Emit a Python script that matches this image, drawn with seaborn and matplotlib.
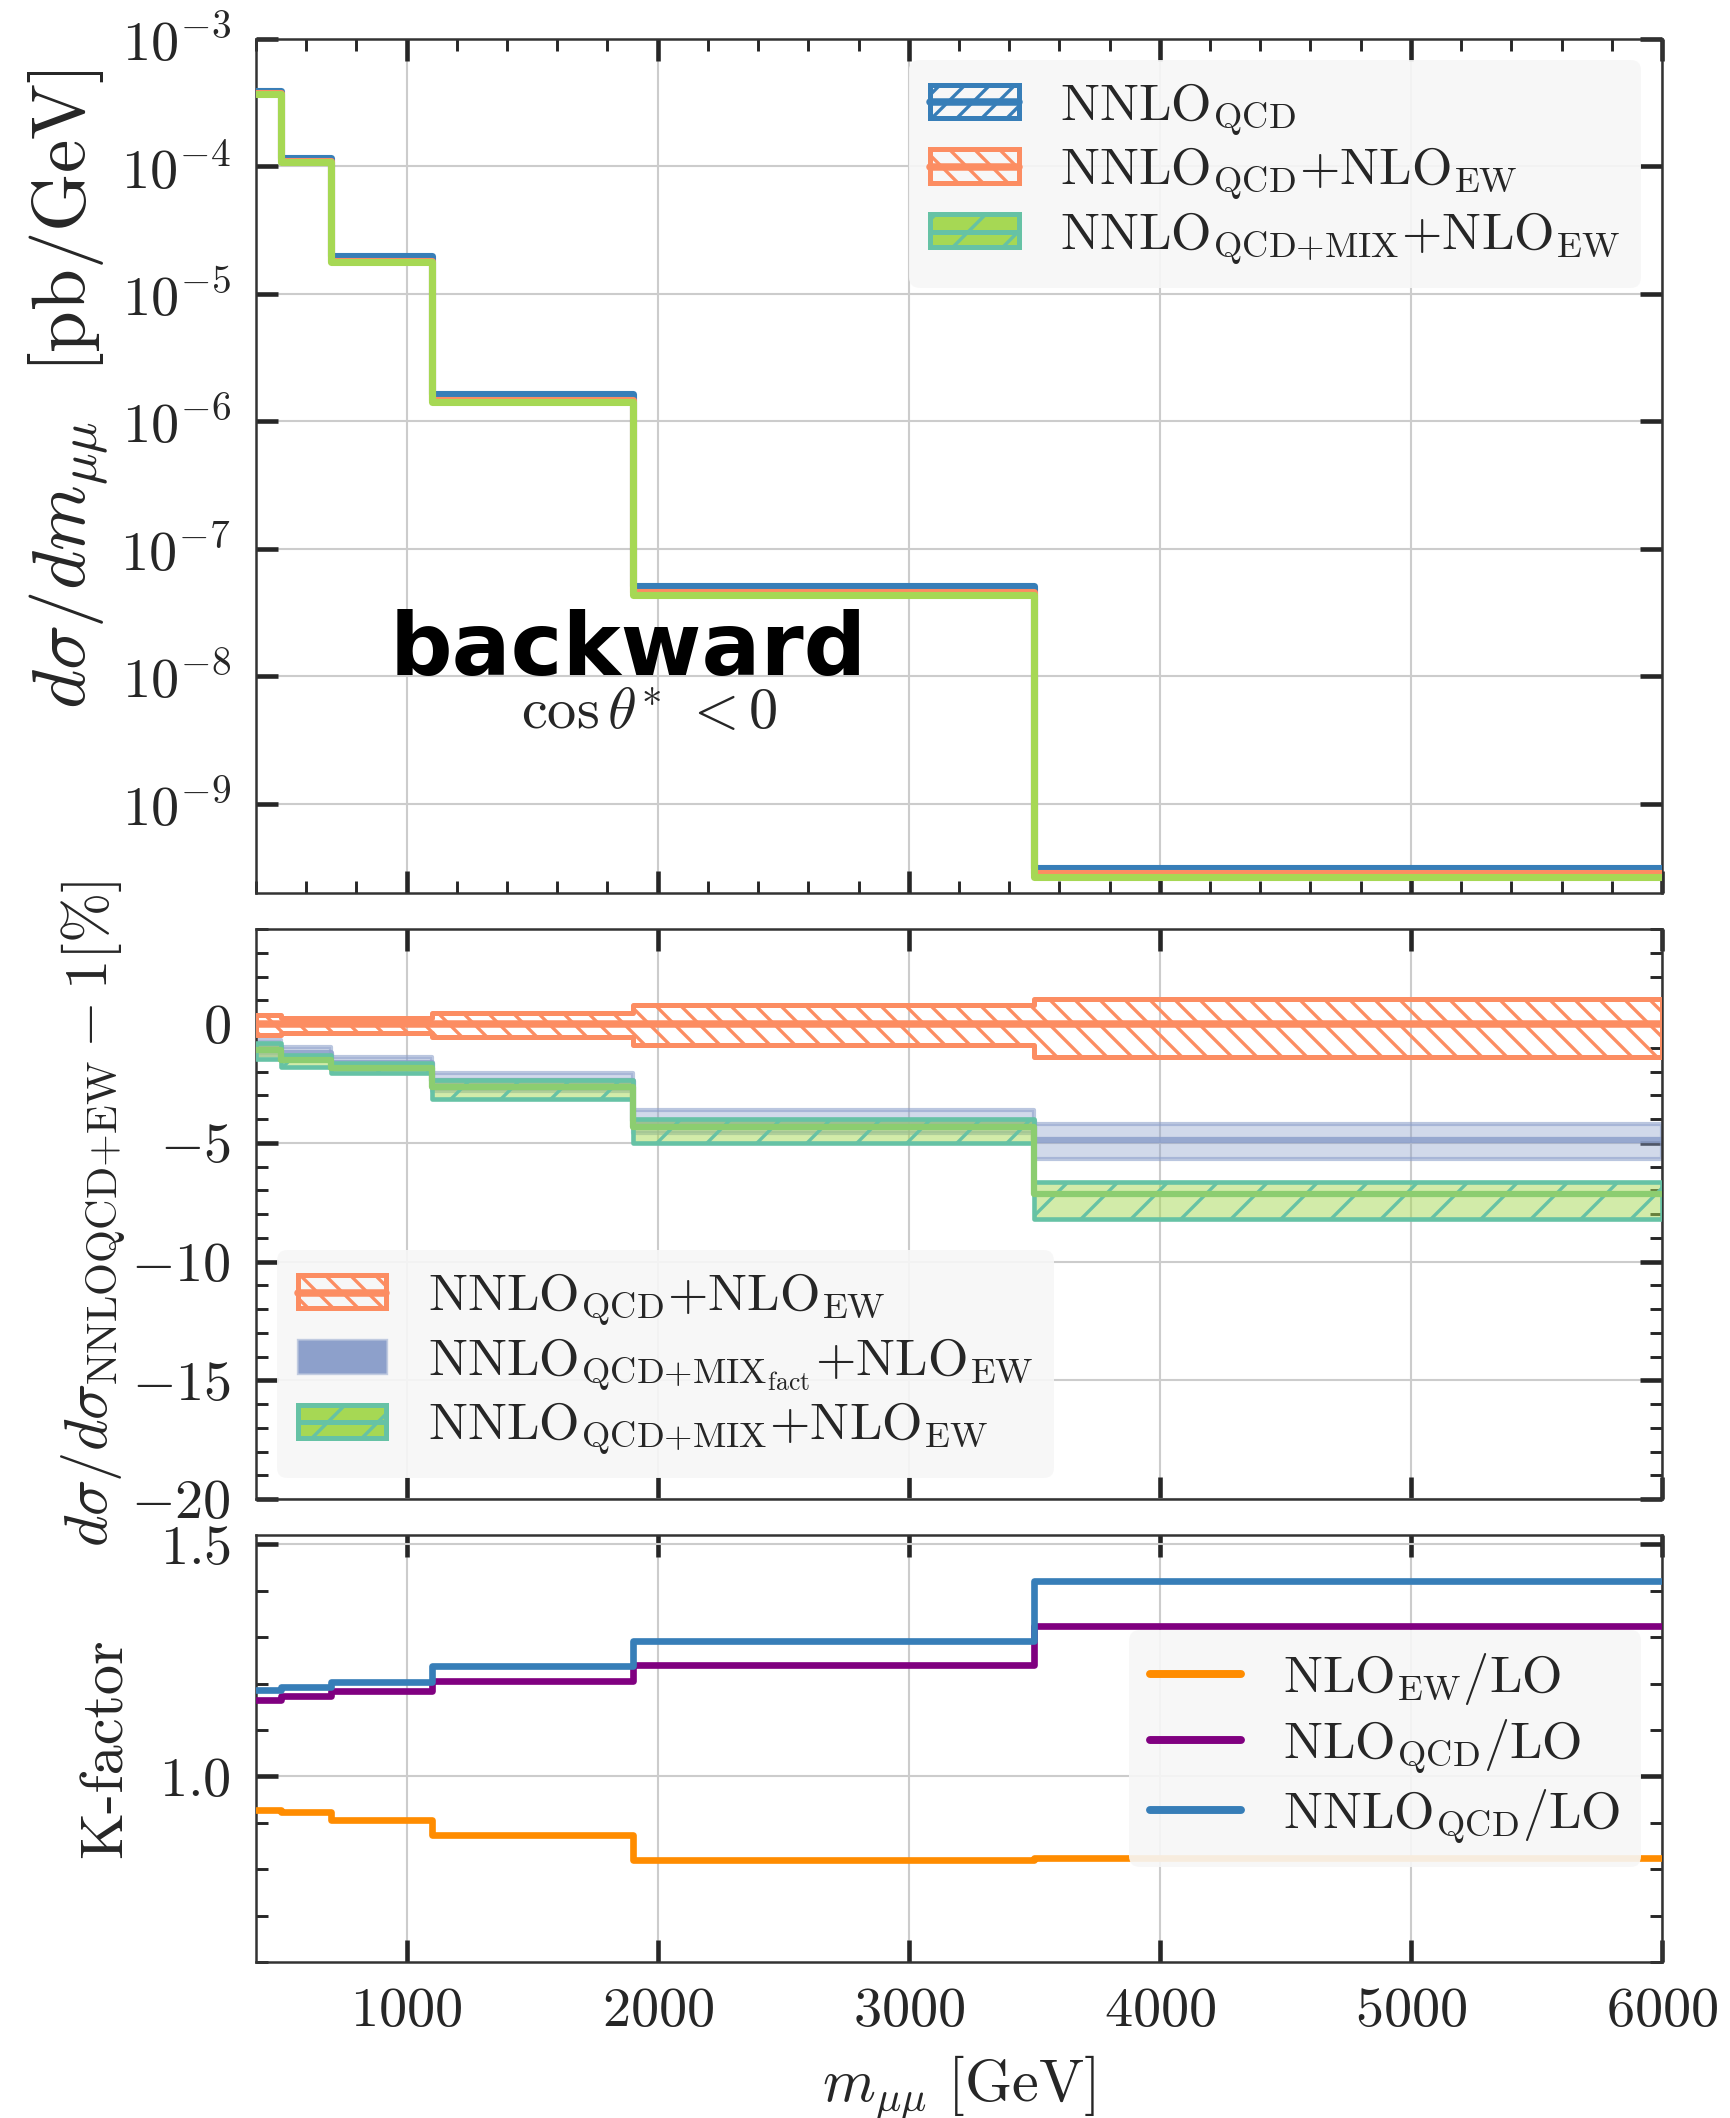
import numpy as np
import matplotlib
matplotlib.use("Agg")
import matplotlib.pyplot as plt
import seaborn as sns
from matplotlib.patches import Patch
from matplotlib.lines import Line2D
from matplotlib.legend_handler import HandlerTuple
from matplotlib.ticker import MultipleLocator, LogLocator, NullLocator
from matplotlib.colors import to_rgba

# ---------------- data ----------------
edges = [400, 500, 700, 1100, 1900, 3500, 6000]

# differential cross sections [pb/GeV]
xs_nnlo_qcd = [3.94e-4, 1.17e-4, 1.98e-5, 1.63e-6, 5.13e-8, 3.12e-10]
xs_nnlo_qcd_ew = [3.76e-4, 1.11e-4, 1.82e-5, 1.47e-6, 4.60e-8, 2.85e-10]
xs_nnlo_mix_ew = [3.70e-4, 1.09e-4, 1.78e-5, 1.42e-6, 4.38e-8, 2.65e-10]

# relative deviations from NNLO_QCD+NLO_EW [%]
ew_c = [0.0, 0.0, 0.0, 0.0, 0.0, 0.0]
ew_up = [0.38, 0.24, 0.24, 0.45, 0.80, 1.04]
ew_dn = [-0.46, -0.39, -0.39, -0.56, -0.89, -1.41]
fact_c = [-0.95, -1.20, -1.65, -2.40, -4.10, -4.90]
fact_up = [-0.68, -0.96, -1.41, -2.08, -3.63, -4.20]
fact_dn = [-1.30, -1.50, -1.95, -2.80, -4.60, -5.68]
mix_c = [-1.10, -1.50, -1.85, -2.65, -4.35, -7.15]
mix_up = [-0.82, -1.31, -1.66, -2.37, -3.99, -6.66]
mix_dn = [-1.49, -1.80, -2.08, -3.14, -5.01, -8.21]

# K-factors
k_nlo_ew = [0.928, 0.923, 0.906, 0.873, 0.819, 0.823]
k_nlo_qcd = [1.164, 1.173, 1.184, 1.205, 1.240, 1.325]
k_nnlo_qcd = [1.186, 1.193, 1.204, 1.237, 1.291, 1.421]

# ---------------- style ----------------
sns.set_theme(style="whitegrid")
plt.rcParams.update({
    "font.family": "serif",
    "font.serif": ["cmr10"],
    "mathtext.fontset": "cm",
    "axes.formatter.use_mathtext": True,
    "axes.unicode_minus": True,
    "hatch.linewidth": 0.8,
    "axes.edgecolor": "#333333",
    "axes.linewidth": 0.6,
})

C_QCD = "#377eb8"
C_EW = "#fc8d62"
C_MIXF = "#8da0cb"
C_MIX = "#a6d854"
C_MIX_EDGE = "#66c2a5"
C_K_EW = "#ff8c00"
C_K_NLO = "#800080"
C_K_NNLO = "#377eb8"

FS_TICK = 13.5
FS_LAB = 14.5
FS_LEG = 12.5

W, H = 1731, 2118
fig = plt.figure(figsize=(W / 300, H / 300), dpi=300)
left, right = 256 / W, 1662 / W
def rect(top_px, bot_px):
    return [left, 1 - bot_px / H, right - left, (bot_px - top_px) / H]

ax1 = fig.add_axes(rect(39, 893))
ax2 = fig.add_axes(rect(929, 1499))
ax3 = fig.add_axes(rect(1535, 1962))


def ext(v):
    v = np.asarray(v, dtype=float)
    return np.append(v, v[-1])


def steps(ax, vals, color, lw, **kw):
    sns.lineplot(x=edges, y=ext(vals), drawstyle="steps-post", estimator=None,
                 sort=False, color=color, linewidth=lw, ax=ax, legend=False, **kw)


def band(ax, lo, hi, **kw):
    ax.fill_between(edges, ext(lo), ext(hi), step="post", **kw)


# ---------------- top panel ----------------
xs_ew = np.array(xs_nnlo_qcd_ew)
xs_mix = np.array(xs_nnlo_mix_ew)
steps(ax1, xs_nnlo_qcd, C_QCD, 1.7, zorder=3)
band(ax1, xs_ew * (1 + np.array(ew_dn) / 100), xs_ew * (1 + np.array(ew_up) / 100),
     facecolor="none", edgecolor=C_EW, hatch="\\\\\\\\", lw=0.8, zorder=4)
steps(ax1, xs_nnlo_qcd_ew, C_EW, 1.7, zorder=4)
mix_rel_dn = (np.array(mix_dn) - np.array(mix_c)) / 100
mix_rel_up = (np.array(mix_up) - np.array(mix_c)) / 100
band(ax1, xs_mix * (1 + mix_rel_dn), xs_mix * (1 + mix_rel_up),
     facecolor=to_rgba(C_MIX, 0.6), edgecolor=C_MIX_EDGE, hatch="//", lw=0.8, zorder=5)
steps(ax1, xs_nnlo_mix_ew, C_MIX, 1.7, zorder=5)

ax1.set_yscale("log")
ax1.set_ylim(2e-10, 1e-3)
ax1.yaxis.set_major_locator(LogLocator(base=10, numticks=20))
ax1.yaxis.set_minor_locator(NullLocator())
ax1.set_ylabel(r"$d\sigma/dm_{\mu\mu}\ \ [\mathrm{pb/GeV}]$", fontsize=18)
ax1.yaxis.set_label_coords(-0.104, 0.59)

ax1.text(1881, 10 ** -7.80, "backward", family="DejaVu Sans", weight="bold",
         fontsize=21, ha="center", va="center", color="black", zorder=6)
ax1.text(1965, 10 ** -8.30, r"$\cos\theta^{*}\ <0$", fontsize=14,
         ha="center", va="center", zorder=6)

leg_kw = dict(facecolor="#f7f7f7", edgecolor="none", framealpha=0.9, fancybox=True,
              fontsize=FS_LEG, handlelength=1.7, handleheight=0.6, labelspacing=0.15,
              handler_map={tuple: HandlerTuple(ndivide=1, pad=0)})

h_qcd = (Patch(facecolor="none", edgecolor=C_QCD, hatch="////", lw=1.2),
         Line2D([], [], color=C_QCD, lw=1.8))
h_ew = (Patch(facecolor="none", edgecolor=C_EW, hatch="\\\\\\\\", lw=1.2),
        Line2D([], [], color=C_EW, lw=1.8))
h_mix = (Patch(facecolor=C_MIX, edgecolor=C_MIX_EDGE, hatch="//", lw=1.2),
         Line2D([], [], color=C_MIX_EDGE, lw=1.2))
h_fact = Patch(facecolor=C_MIXF, edgecolor=to_rgba(C_MIXF, 0.5), lw=0.8)

lab_qcd = r"$\mathrm{NNLO}_{\mathrm{QCD}}$"
lab_ew = r"$\mathrm{NNLO}_{\mathrm{QCD}}\mathrm{{+}NLO}_{\mathrm{EW}}$"
lab_mix = r"$\mathrm{NNLO}_{\mathrm{QCD{+}MIX}}\mathrm{{+}NLO}_{\mathrm{EW}}$"
lab_fact = r"$\mathrm{NNLO}_{\mathrm{QCD{+}MIX}_{\mathrm{fact}}}\mathrm{{+}NLO}_{\mathrm{EW}}$"

ax1.legend([h_qcd, h_ew, h_mix], [lab_qcd, lab_ew, lab_mix], loc="upper right",
           borderaxespad=0.4, **leg_kw)

# ---------------- ratio panel ----------------
band(ax2, fact_dn, fact_up, facecolor=to_rgba(C_MIXF, 0.4),
     edgecolor=to_rgba(C_MIXF, 0.6), lw=1.0, zorder=2)
steps(ax2, fact_c, to_rgba(C_MIXF, 0.85), 1.5, zorder=2)
band(ax2, mix_dn, mix_up, facecolor=to_rgba(C_MIX, 0.5), edgecolor=C_MIX_EDGE,
     hatch="//", lw=1.1, zorder=3)
steps(ax2, mix_c, "#8ccd70", 1.5, zorder=3)
band(ax2, ew_dn, ew_up, facecolor="none", edgecolor=C_EW, hatch="\\\\\\\\",
     lw=1.2, zorder=4)
steps(ax2, ew_c, C_EW, 1.8, zorder=4)

ax2.set_ylim(-20, 4)
ax2.yaxis.set_major_locator(MultipleLocator(5))
ax2.yaxis.set_minor_locator(MultipleLocator(1))
ax2.set_ylabel(r"$d\sigma/d\sigma_{\mathrm{NNLOQCD{+}EW}}-1[\%]$", fontsize=FS_LAB)
ax2.yaxis.set_label_coords(-0.092, 0.5)
ax2.legend([h_ew, h_fact, h_mix], [lab_ew, lab_fact, lab_mix], loc="lower left",
           borderaxespad=0.4, **leg_kw)

# ---------------- K-factor panel ----------------
steps(ax3, k_nlo_ew, C_K_EW, 1.6, zorder=3)
steps(ax3, k_nlo_qcd, C_K_NLO, 1.6, zorder=3)
steps(ax3, k_nnlo_qcd, C_K_NNLO, 1.6, zorder=3)
ax3.set_ylim(0.6, 1.52)
ax3.yaxis.set_major_locator(MultipleLocator(0.5))
ax3.yaxis.set_minor_locator(MultipleLocator(0.1))
ax3.set_ylabel("K-factor", fontsize=FS_LAB)
ax3.yaxis.set_label_coords(-0.087, 0.5)
k_handles = [Line2D([], [], color=c, lw=1.9) for c in (C_K_EW, C_K_NLO, C_K_NNLO)]
k_labels = [r"$\mathrm{NLO}_{\mathrm{EW}}/\mathrm{LO}$",
            r"$\mathrm{NLO}_{\mathrm{QCD}}/\mathrm{LO}$",
            r"$\mathrm{NNLO}_{\mathrm{QCD}}/\mathrm{LO}$"]
ax3.legend(k_handles, k_labels, loc="center right", borderaxespad=0.4,
           facecolor="#f7f7f7", edgecolor="none", framealpha=0.9, fancybox=True,
           fontsize=FS_LEG, handlelength=1.75, labelspacing=0.2)

ax3.set_xlabel(r"$m_{\mu\mu}\ [\mathrm{GeV}]$", fontsize=FS_LAB)

# ---------------- axis cosmetics ----------------
for ax in (ax1, ax2, ax3):
    ax.set_xlim(400, 6000)
    ax.xaxis.set_major_locator(MultipleLocator(1000))
    ax.set_facecolor("white")
    ax.grid(True, which="major", color="#cccccc", lw=0.5)
    ax.grid(False, which="minor")
    ax.tick_params(which="both", direction="in", top=True, right=True,
                   bottom=True, left=True, color="#262626",
                   labelsize=FS_TICK, pad=6)
    ax.tick_params(which="major", length=5.2, width=1.1)
    ax.tick_params(which="minor", length=2.8, width=0.7)
    for s in ax.spines.values():
        s.set_color("#333333")
        s.set_linewidth(0.6)
ax1.xaxis.set_minor_locator(MultipleLocator(200))
ax2.xaxis.set_minor_locator(NullLocator())
ax3.xaxis.set_minor_locator(NullLocator())
ax1.tick_params(axis="x", labelbottom=False)
ax2.tick_params(axis="x", labelbottom=False)

fig.savefig("out.png", dpi=300)
